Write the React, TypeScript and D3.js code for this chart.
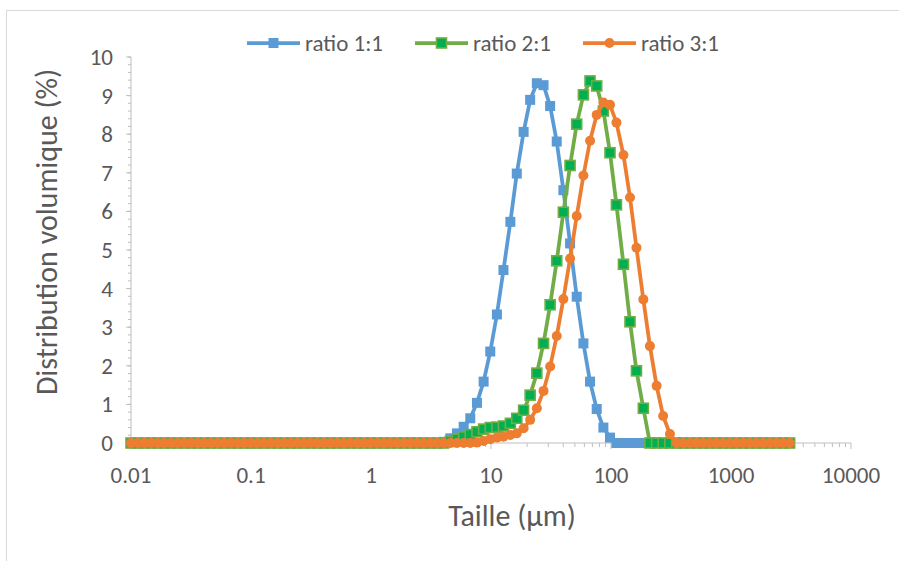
import React from "react";
import * as d3 from "d3";

const sizes = [
  0.01, 0.0114, 0.0129, 0.0147, 0.0167, 0.0189, 0.0215, 0.0244, 0.0278, 0.0315,
  0.0358, 0.0407, 0.0463, 0.0526, 0.0597, 0.0679, 0.0771, 0.0876, 0.0995, 0.113,
  0.128, 0.146, 0.166, 0.188, 0.214, 0.243, 0.276, 0.314, 0.357, 0.405,
  0.46, 0.523, 0.594, 0.675, 0.767, 0.872, 0.991, 1.13, 1.28, 1.45,
  1.65, 1.88, 2.13, 2.42, 2.75, 3.12, 3.55, 4.03, 4.58, 5.21,
  5.92, 6.72, 7.64, 8.68, 9.86, 11.2, 12.7, 14.5, 16.4, 18.7,
  21.2, 24.1, 27.4, 31.1, 35.3, 40.1, 45.6, 51.8, 58.9, 66.9,
  76, 86.4, 98.1, 111, 127, 144, 163, 186, 211, 240,
  272, 310, 352, 400, 454, 516, 586, 666, 756, 859,
  976, 1110, 1260, 1430, 1630, 1850, 2100, 2390, 2710, 3080,
];

const ratio11 = [
  0, 0, 0, 0, 0, 0, 0, 0, 0, 0,
  0, 0, 0, 0, 0, 0, 0, 0, 0, 0,
  0, 0, 0, 0, 0, 0, 0, 0, 0, 0,
  0, 0, 0, 0, 0, 0, 0, 0, 0, 0,
  0, 0, 0, 0, 0, 0, 0, 0.03, 0.12, 0.25,
  0.42, 0.64, 1.04, 1.59, 2.37, 3.33, 4.48, 5.73, 6.98, 8.06,
  8.89, 9.32, 9.27, 8.73, 7.81, 6.55, 5.17, 3.79, 2.58, 1.59,
  0.88, 0.4, 0.14, 0, 0, 0, 0, 0, 0, 0,
  0, 0, 0, 0, 0, 0, 0, 0, 0, 0,
  0, 0, 0, 0, 0, 0, 0, 0, 0, 0,
];

const ratio21 = [
  0, 0, 0, 0, 0, 0, 0, 0, 0, 0,
  0, 0, 0, 0, 0, 0, 0, 0, 0, 0,
  0, 0, 0, 0, 0, 0, 0, 0, 0, 0,
  0, 0, 0, 0, 0, 0, 0, 0, 0, 0,
  0, 0, 0, 0, 0, 0, 0, 0, 0.04, 0.1,
  0.16, 0.22, 0.29, 0.36, 0.4, 0.41, 0.44, 0.51, 0.64, 0.85,
  1.24, 1.81, 2.58, 3.58, 4.72, 5.98, 7.19, 8.26, 9.02, 9.38,
  9.25, 8.6, 7.52, 6.17, 4.63, 3.14, 1.87, 0.9, 0, 0,
  0, 0, 0, 0, 0, 0, 0, 0, 0, 0,
  0, 0, 0, 0, 0, 0, 0, 0, 0, 0,
];

const ratio31 = [
  0, 0, 0, 0, 0, 0, 0, 0, 0, 0,
  0, 0, 0, 0, 0, 0, 0, 0, 0, 0,
  0, 0, 0, 0, 0, 0, 0, 0, 0, 0,
  0, 0, 0, 0, 0, 0, 0, 0, 0, 0,
  0, 0, 0, 0, 0, 0, 0, 0, 0, 0,
  0, 0, 0.01, 0.05, 0.1, 0.14, 0.16, 0.21, 0.25, 0.38,
  0.6, 0.9, 1.35, 1.98, 2.77, 3.73, 4.78, 5.88, 6.93, 7.83,
  8.5, 8.82, 8.76, 8.3, 7.46, 6.36, 5.06, 3.72, 2.51, 1.48,
  0.7, 0.23, 0, 0, 0, 0, 0, 0, 0, 0,
  0, 0, 0, 0, 0, 0, 0, 0, 0, 0,
];

const seriesNames = ["ratio 1:1", "ratio 2:1", "ratio 3:1"];
const xTickValues = [0.01, 0.1, 1, 10, 100, 1000, 10000];
const xTickLabels = ["0.01", "0.1", "1", "10", "100", "1000", "10000"];
const yTickValues = [0, 1, 2, 3, 4, 5, 6, 7, 8, 9, 10];

const FONT = "Carlito, Calibri, 'Liberation Sans', Arial, sans-serif";
const TEXT = "#595959";
const AXIS = "#bfbfbf";

export default function App() {
  const W = 899;
  const H = 561;
  const left = 131, right = 851, top = 57, bottom = 443;
  const x = d3.scaleLog().domain([0.01, 10000]).range([left, right]);
  const y = d3.scaleLinear().domain([0, 10]).range([bottom, top]);

  const styles = [
    { line: "#5B9BD5", fill: "#5B9BD5", stroke: "#5B9BD5", shape: "square" },
    { line: "#70AD47", fill: "#00B050", stroke: "#70AD47", shape: "square" },
    { line: "#ED7D31", fill: "#ED7D31", stroke: "#ED7D31", shape: "circle" },
  ];
  const data = [ratio11, ratio21, ratio31];

  const line = d3
    .line<number>()
    .x((_, i) => x(sizes[i]))
    .y((d) => y(d));

  const minorX: number[] = [];
  for (let e = -2; e < 4; e++) {
    for (let k = 2; k <= 9; k++) minorX.push(k * Math.pow(10, e));
  }
  const minorY: number[] = d3.range(0, 10.001, 0.2);

  const marker = (s: any, cx: number, cy: number, key: any) =>
    s.shape === "square" ? (
      <rect key={key} x={cx - 5} y={cy - 5} width={10} height={10} fill={s.fill} stroke={s.stroke} strokeWidth={s.fill === s.stroke ? 0 : 1.6} />
    ) : (
      <circle key={key} cx={cx} cy={cy} r={5} fill={s.fill} />
    );

  const legendX = [247, 415, 583];

  return (
    <svg width={W} height={H} style={{ position: "absolute", left: 0, top: 0, background: "#fff" }} fontFamily={FONT}>
      <rect x={6.5} y={10.5} width={1000} height={1000} fill="none" stroke="#d9d9d9" strokeWidth={1} />
      {/* y axis */}
      <line x1={left} x2={left} y1={top} y2={bottom} stroke={AXIS} strokeWidth={1} />
      {minorY.map((v, i) => (
        <line key={"my" + i} x1={left - 3} x2={left} y1={y(v)} y2={y(v)} stroke={AXIS} strokeWidth={1} />
      ))}
      {yTickValues.map((v) => (
        <g key={"yt" + v}>
          <line x1={left - 5} x2={left} y1={y(v)} y2={y(v)} stroke={AXIS} strokeWidth={1} />
          <text x={113} y={y(v)} dy="0.35em" textAnchor="end" fontSize={23} fill={TEXT}>{v}</text>
        </g>
      ))}
      {/* x axis */}
      <line x1={left} x2={right} y1={bottom} y2={bottom} stroke={AXIS} strokeWidth={1} />
      {minorX.map((v, i) => (
        <line key={"mx" + i} x1={x(v)} x2={x(v)} y1={bottom} y2={bottom + 4} stroke={AXIS} strokeWidth={1} />
      ))}
      {xTickValues.map((v, i) => (
        <g key={"xt" + i}>
          <line x1={x(v)} x2={x(v)} y1={bottom} y2={bottom + 6} stroke={AXIS} strokeWidth={1} />
          <text x={x(v)} y={483} textAnchor="middle" fontSize={23} fill={TEXT}>{xTickLabels[i]}</text>
        </g>
      ))}
      {/* series */}
      {data.map((d, si) => (
        <g key={"s" + si}>
          <path d={line(d) || ""} fill="none" stroke={styles[si].line} strokeWidth={3.75} strokeLinejoin="round" />
          {d.map((v, i) => marker(styles[si], x(sizes[i]), y(v), i))}
        </g>
      ))}
      {/* legend */}
      {seriesNames.map((n, i) => (
        <g key={"lg" + i}>
          <line x1={legendX[i]} x2={legendX[i] + 53} y1={43} y2={43} stroke={styles[i].line} strokeWidth={3.75} />
          {marker(styles[i], legendX[i] + 26.5, 43, "m")}
          <text x={legendX[i] + 58} y={43} dy="0.35em" fontSize={23} fill={TEXT}>{n}</text>
        </g>
      ))}
      {/* titles */}
      <text x={512} y={526} textAnchor="middle" fontSize={30} fill={TEXT}>Taille (µm)</text>
      <text transform="translate(57,232) rotate(-90)" textAnchor="middle" fontSize={30} fill={TEXT}>Distribution volumique (%)</text>
    </svg>
  );
}
